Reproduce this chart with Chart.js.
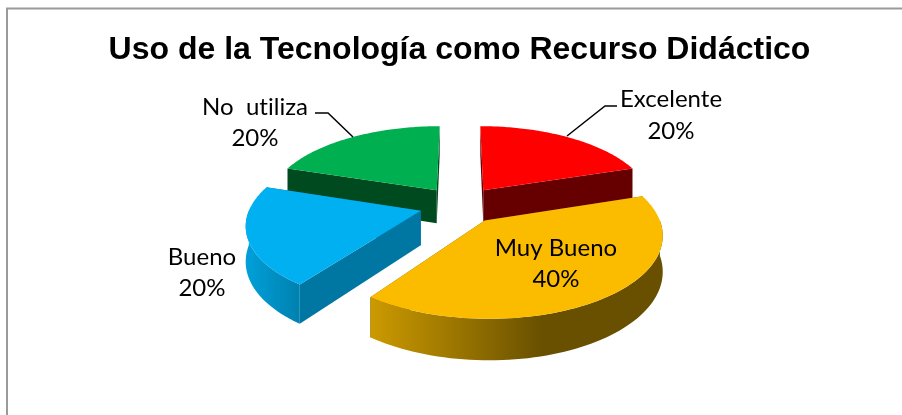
<!DOCTYPE html>
<html><head><meta charset="utf-8">
<style>html,body{margin:0;padding:0;background:#fff}#wrap{position:absolute;left:0;top:0;width:902px;height:415px}</style>
<script src="https://cdn.jsdelivr.net/npm/chart.js@4"></script></head>
<body><div id="wrap"><canvas id="c" width="902" height="415"></canvas></div>
<script>
const titleText = 'Uso de la Tecnología como Recurso Didáctico';
const categories = ['Excelente', 'Muy Bueno', 'Bueno', 'No  utiliza'];
const values = [20, 40, 20, 20];
const sliceColors = ['#FF0000', '#FBBC00', '#00B0F0', '#00B050'];
const radialWallColors = ['#660000', '#6B5000', '#0077A3', '#004A20'];
const outerWallStops = [['#7A0000','#7A0000'], ['#CC9A00','#685000'], ['#00A0DA','#0080AE'], ['#00602A','#00602A']];

const view = {cx:460, cy:205, A:170, B:78, D:34, p:0.152};
const labelSpots = [[671,99,671,131],[556,248,556,279],[202,257,202,288],[255,107,255,138]];
const leaders = [[[567,136],[605,106],[617,106]],null,null,[[353,137],[328,113],[315,113]]];
const paintOrder = [0,3,2,1];

function project(u,v,z){
  const w = 1 - view.p*v;
  return [view.cx + view.A*u/w, view.cy + (view.B*v + view.D*z)/w];
}
function trace(ctx,pts){ctx.beginPath();pts.forEach((p,i)=>i?ctx.lineTo(p[0],p[1]):ctx.moveTo(p[0],p[1]));ctx.closePath();}

const pie3d = {
  id:'pie3d',
  beforeDatasetsDraw(chart){
    const ctx = chart.ctx;
    const arcs = chart.getDatasetMeta(0).data;
    paintOrder.forEach(i=>{
      const a = arcs[i];
      const {startAngle,endAngle,outerRadius} = a.getProps(['startAngle','endAngle','outerRadius'],true);
      const d = a.options.offset/outerRadius, mid=(startAngle+endAngle)/2;
      const ox=d*Math.cos(mid), oy=d*Math.sin(mid);
      const rim=[], front=[]; const n=80;
      for(let k=0;k<=n;k++){
        const t=startAngle+(endAngle-startAngle)*k/n;
        const q=[ox+Math.cos(t),oy+Math.sin(t)];
        rim.push(q);
        if(Math.sin(t)>=0) front.push(q);
      }
      // radial walls
      ctx.fillStyle=radialWallColors[i];
      [rim[0],rim[n]].forEach(e=>{
        trace(ctx,[project(ox,oy,0),project(e[0],e[1],0),project(e[0],e[1],1),project(ox,oy,1)]);ctx.fill();
      });
      // outer wall, only the part that faces the viewer
      if(front.length>1){
        const rimTop=front.map(q=>project(q[0],q[1],0)), rimBot=front.map(q=>project(q[0],q[1],1));
        const x0=Math.min(...rimTop.map(q=>q[0]));
        const g=ctx.createLinearGradient(x0,0,i===1?x0+172:x0+55,0);
        g.addColorStop(0,outerWallStops[i][0]);g.addColorStop(1,outerWallStops[i][1]);
        ctx.fillStyle=g;
        trace(ctx,[...rimTop,...rimBot.slice().reverse()]);ctx.fill();
      }
      // top face
      ctx.fillStyle=a.options.backgroundColor;
      trace(ctx,[[ox,oy],...rim].map(q=>project(q[0],q[1],0)));ctx.fill();
    });
    return false;
  },
  afterDraw(chart){
    const ctx=chart.ctx;
    ctx.save();
    ctx.strokeStyle='#000';ctx.lineWidth=1.5;
    leaders.forEach(l=>{if(!l)return;ctx.beginPath();l.forEach((p,i)=>i?ctx.lineTo(p[0],p[1]):ctx.moveTo(p[0],p[1]));ctx.stroke();});
    ctx.fillStyle='#000';ctx.font='24px Lato';ctx.letterSpacing='0.02px';ctx.textAlign='center';ctx.textBaseline='middle';
    const total=values.reduce((s,x)=>s+x,0);
    categories.forEach((c,i)=>{
      const s=labelSpots[i];
      ctx.fillText(c,s[0],s[1]);
      ctx.fillText(Math.round(values[i]/total*100)+'%',s[2],s[3]);
    });
    ctx.restore();
  }
};
const frame = {
  id:'frame',
  beforeDraw(chart){
    const ctx=chart.ctx;
    ctx.save();ctx.strokeStyle='#9A9A9A';ctx.lineWidth=2;
    ctx.beginPath();ctx.moveTo(7,415);ctx.lineTo(7,8.5);ctx.lineTo(902,8.5);ctx.stroke();ctx.restore();
  }
};
new Chart(document.getElementById('c'),{
  type:'pie',
  data:{labels:categories,datasets:[{data:values,backgroundColor:sliceColors,borderWidth:0,offset:24,radius:100}]},
  options:{
    responsive:false,animation:false,
    layout:{padding:{left:17,top:31}},
    plugins:{
      legend:{display:false},tooltip:{enabled:false},
      title:{display:true,text:titleText,color:'#000',font:{family:'"Liberation Sans"',size:32,weight:'bold'},padding:{top:0,bottom:0}}
    }
  },
  plugins:[frame,pie3d]
});
</script></body></html>
